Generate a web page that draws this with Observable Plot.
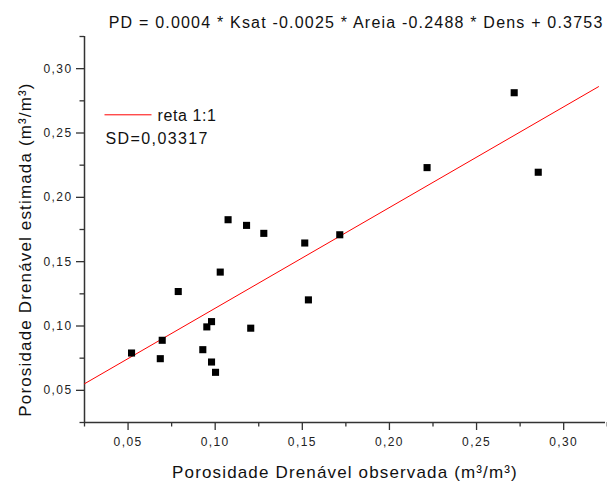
<!DOCTYPE html>
<html>
<head>
<meta charset="utf-8">
<script src="https://cdn.jsdelivr.net/npm/d3@7"></script>
<script src="https://cdn.jsdelivr.net/npm/@observablehq/plot@0.6"></script>
<style>
  html, body { margin: 0; padding: 0; background: #fff; }
  #chart svg { display: block; }
  [aria-label$="tick label"] text { letter-spacing: 1.4px; }
  .lbl text { letter-spacing: 1.15px; }
  .ttl text { letter-spacing: 1.2px; }
  .sd text { letter-spacing: 1.4px; }
  .leg text { letter-spacing: 0.6px; }
</style>
</head>
<body>
<div id="chart"></div>
<script>
// ---- data ----
const observed  = [0.0520, 0.0696, 0.0685, 0.0788, 0.0929, 0.0952, 0.0979, 0.0979, 0.1002, 0.1029,
                   0.1074, 0.1180, 0.1204, 0.1279, 0.1514, 0.1535, 0.1715, 0.2216, 0.2716, 0.2854];
const estimated = [0.0790, 0.0889, 0.0746, 0.1268, 0.0816, 0.0993, 0.1034, 0.0720, 0.0640, 0.1419,
                   0.1826, 0.1782, 0.0983, 0.1720, 0.1645, 0.1203, 0.1709, 0.2231, 0.2813, 0.2195];
const fitX = [0.025, 0.320];
const fitY = [0.0551, 0.286];
const majorTicks = [0.05, 0.10, 0.15, 0.20, 0.25, 0.30];
const minorTicks = [0.025, 0.075, 0.125, 0.175, 0.225, 0.275, 0.325];
const titleText = "PD = 0.0004 * Ksat -0.0025 * Areia -0.2488 * Dens + 0.3753";
const legendLabel = "reta 1:1";
const sdText = "SD=0,03317";
const xLabel = "Porosidade Drenável observada (m³/m³)";
const yLabel = "Porosidade Drenável estimada (m³/m³)";

const points = observed.map((x, i) => ({x, y: estimated[i]}));
const fit = fitX.map((x, i) => ({x, y: fitY[i]}));
const fmt = d => d.toFixed(2).replace(".", ",");
const axisColor = "#333";

const lineSymbol = {
  draw(ctx) { ctx.moveTo(-23.5, 0); ctx.lineTo(23.5, 0); }
};

const chart = Plot.plot({
  width: 607,
  height: 482,
  marginLeft: 84,
  marginRight: 2,
  marginTop: 36,
  marginBottom: 60,
  style: {fontFamily: "'Liberation Sans', Arial, sans-serif", background: "#fff", color: "#222"},
  x: {domain: [0.025, 0.324]},
  y: {domain: [0.025, 0.325]},
  marks: [
    Plot.axisX(majorTicks, {tickSize: 8, tickPadding: 7, tickFormat: fmt, fontSize: 12, label: null, stroke: axisColor, strokeWidth: 1.3, fill: "#222"}),
    Plot.axisX(minorTicks, {tickSize: 4.5, tickFormat: () => "", label: null, stroke: axisColor, strokeWidth: 1.3}),
    Plot.axisY(majorTicks, {tickSize: 8, tickPadding: 4, tickFormat: fmt, fontSize: 12, label: null, stroke: axisColor, strokeWidth: 1.3, fill: "#222"}),
    Plot.axisY(minorTicks, {tickSize: 4.5, tickFormat: () => "", label: null, stroke: axisColor, strokeWidth: 1.3}),
    Plot.ruleY([0.025], {stroke: axisColor, strokeWidth: 1.5}),
    Plot.ruleX([0.025], {stroke: axisColor, strokeWidth: 1.5}),
    Plot.line(fit, {x: "x", y: "y", stroke: "#ff0000", strokeWidth: 1}),
    Plot.dot(points, {x: "x", y: "y", symbol: "square", r: 4, fill: "#000", stroke: "none"}),
    Plot.text([titleText], {text: d => d, frameAnchor: "top-right", textAnchor: "end", lineAnchor: "middle", dx: -2, dy: -14, fontSize: 16, fill: "#111", className: "ttl"}),
    Plot.dot([legendLabel], {frameAnchor: "top-left", dx: 43.5, dy: 78.3, symbol: lineSymbol, stroke: "#ff0000", strokeWidth: 1, fill: "none"}),
    Plot.text([legendLabel], {text: d => d, frameAnchor: "top-left", textAnchor: "start", lineAnchor: "middle", dx: 73, dy: 79, fontSize: 16, fill: "#111", className: "leg"}),
    Plot.text([sdText], {text: d => d, frameAnchor: "top-left", textAnchor: "start", lineAnchor: "middle", dx: 21, dy: 102, fontSize: 16, fill: "#111", className: "sd"}),
    Plot.text([xLabel], {text: d => d, frameAnchor: "bottom", textAnchor: "middle", lineAnchor: "middle", dy: 50.5, fontSize: 17, fill: "#111", className: "lbl"}),
    Plot.text([yLabel], {text: d => d, frameAnchor: "left", textAnchor: "middle", lineAnchor: "middle", rotate: -90, dx: -58.5, dy: 20, fontSize: 17, fill: "#111", className: "lbl"})
  ]
});
document.getElementById("chart").appendChild(chart);
</script>
</body>
</html>
